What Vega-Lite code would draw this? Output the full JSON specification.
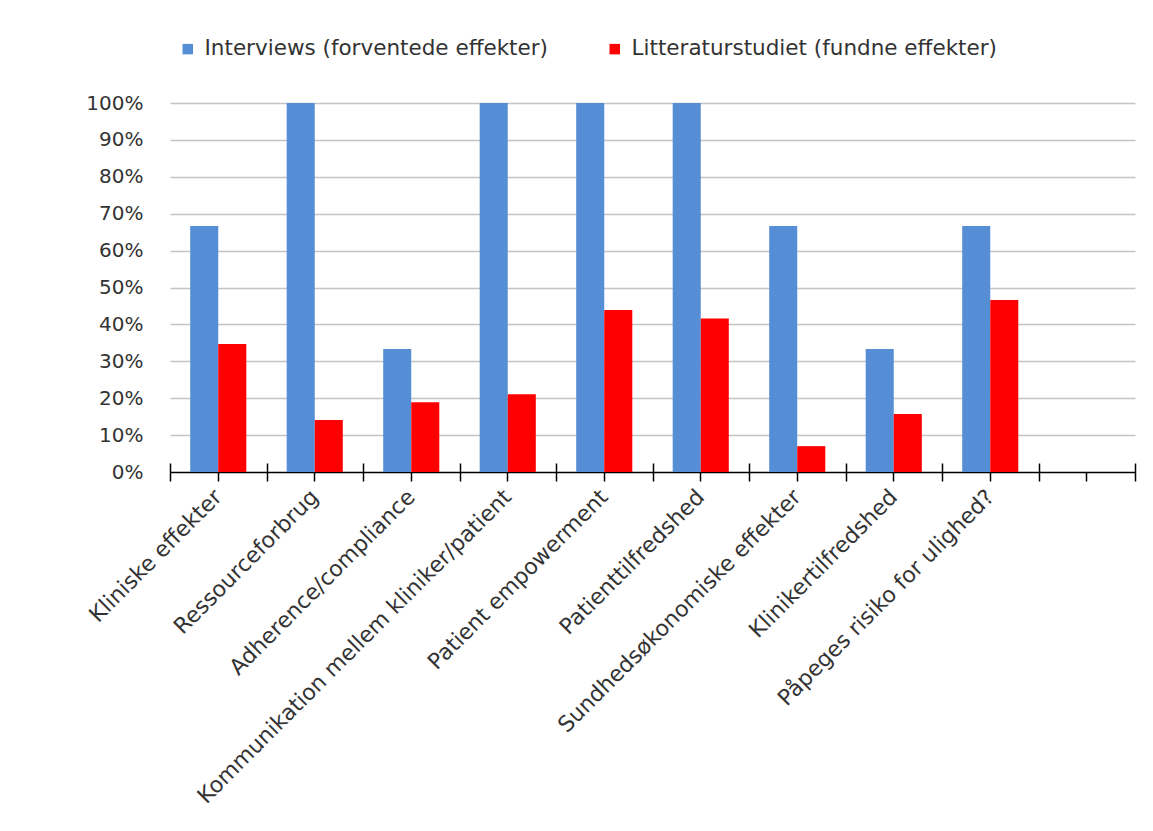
{
  "$schema": "https://vega.github.io/schema/vega-lite/v6.json",
  "width": 965,
  "height": 369,
  "autosize": "none",
  "padding": {"left": 170, "top": 103, "right": 18, "bottom": 359},
  "background": "white",
  "config": {"view": {"stroke": null}, "font": "DejaVu Sans"},
  "data": {
    "values": [
      {"kategori": "Kliniske effekter", "serie": "Interviews (forventede effekter)", "andel": 0.667},
      {"kategori": "Kliniske effekter", "serie": "Litteraturstudiet (fundne effekter)", "andel": 0.347},
      {"kategori": "Ressourceforbrug", "serie": "Interviews (forventede effekter)", "andel": 1.0},
      {"kategori": "Ressourceforbrug", "serie": "Litteraturstudiet (fundne effekter)", "andel": 0.141},
      {"kategori": "Adherence/compliance", "serie": "Interviews (forventede effekter)", "andel": 0.333},
      {"kategori": "Adherence/compliance", "serie": "Litteraturstudiet (fundne effekter)", "andel": 0.189},
      {"kategori": "Kommunikation mellem kliniker/patient", "serie": "Interviews (forventede effekter)", "andel": 1.0},
      {"kategori": "Kommunikation mellem kliniker/patient", "serie": "Litteraturstudiet (fundne effekter)", "andel": 0.211},
      {"kategori": "Patient empowerment", "serie": "Interviews (forventede effekter)", "andel": 1.0},
      {"kategori": "Patient empowerment", "serie": "Litteraturstudiet (fundne effekter)", "andel": 0.439},
      {"kategori": "Patienttilfredshed", "serie": "Interviews (forventede effekter)", "andel": 1.0},
      {"kategori": "Patienttilfredshed", "serie": "Litteraturstudiet (fundne effekter)", "andel": 0.416},
      {"kategori": "Sundhedsøkonomiske effekter", "serie": "Interviews (forventede effekter)", "andel": 0.667},
      {"kategori": "Sundhedsøkonomiske effekter", "serie": "Litteraturstudiet (fundne effekter)", "andel": 0.07},
      {"kategori": "Klinikertilfredshed", "serie": "Interviews (forventede effekter)", "andel": 0.333},
      {"kategori": "Klinikertilfredshed", "serie": "Litteraturstudiet (fundne effekter)", "andel": 0.157},
      {"kategori": "Påpeges risiko for ulighed?", "serie": "Interviews (forventede effekter)", "andel": 0.667},
      {"kategori": "Påpeges risiko for ulighed?", "serie": "Litteraturstudiet (fundne effekter)", "andel": 0.466}
    ]
  },
  "layer": [
    {
      "mark": {"type": "bar"},
      "encoding": {
        "x": {
          "field": "kategori",
          "type": "nominal",
          "scale": {
            "domain": ["Kliniske effekter", "Ressourceforbrug", "Adherence/compliance", "Kommunikation mellem kliniker/patient", "Patient empowerment", "Patienttilfredshed", "Sundhedsøkonomiske effekter", "Klinikertilfredshed", "Påpeges risiko for ulighed?", " "],
            "paddingInner": 0,
            "paddingOuter": 0
          },
          "axis": {
            "title": null,
            "orient": "bottom",
            "labelAngle": -45,
            "labelAlign": "right",
            "labelBaseline": "middle",
            "labelFontSize": 22,
            "labelColor": "#333333",
            "labelLimit": 0,
            "labelPadding": 12,
            "domain": false,
            "tickColor": "black",
            "tickSize": 9,
            "tickWidth": 1.5
          }
        },
        "xOffset": {
          "field": "serie",
          "type": "nominal",
          "scale": {"domain": ["Interviews (forventede effekter)", "Litteraturstudiet (fundne effekter)"], "paddingInner": 0, "paddingOuter": 0.72}
        },
        "y": {
          "field": "andel",
          "type": "quantitative",
          "scale": {"domain": [0, 1], "nice": false},
          "axis": {
            "title": null,
            "format": ".0%",
            "values": [0, 0.1, 0.2, 0.3, 0.4, 0.5, 0.6, 0.7, 0.8, 0.9, 1.0],
            "domain": false,
            "ticks": false,
            "labelPadding": 27,
            "labelFontSize": 20,
            "labelColor": "#333333",
            "gridColor": {"condition": {"test": "datum.value === 0", "value": "black"}, "value": "#C4C4C4"},
            "gridWidth": 1.5
          }
        },
        "color": {
          "field": "serie",
          "type": "nominal",
          "scale": {"domain": ["Interviews (forventede effekter)", "Litteraturstudiet (fundne effekter)"], "range": ["#558ED5", "#FF0000"]},
          "legend": {
            "title": null,
            "orient": "none",
            "legendX": 7,
            "legendY": -65,
            "direction": "horizontal",
            "symbolType": "square",
            "symbolSize": 110,
            "symbolStrokeWidth": 0,
            "labelFontSize": 21.5,
            "labelColor": "#333333",
            "labelOffset": 6,
            "labelLimit": 0,
            "columnPadding": 55
          }
        }
      }
    },
    {
      "mark": {"type": "text", "text": ""},
      "encoding": {
        "x": {
          "field": "kategori",
          "type": "nominal",
          "scale": {
            "domain": ["Kliniske effekter", "Ressourceforbrug", "Adherence/compliance", "Kommunikation mellem kliniker/patient", "Patient empowerment", "Patienttilfredshed", "Sundhedsøkonomiske effekter", "Klinikertilfredshed", "Påpeges risiko for ulighed?", " "],
            "paddingInner": 0,
            "paddingOuter": 0
          },
          "axis": {
            "title": null,
            "orient": "bottom",
            "labels": false,
            "domain": false,
            "tickBand": "extent",
            "tickColor": "black",
            "tickSize": 18,
            "tickWidth": 1.5,
            "offset": -9
          }
        }
      }
    }
  ],
  "resolve": {"axis": {"x": "independent"}}
}
